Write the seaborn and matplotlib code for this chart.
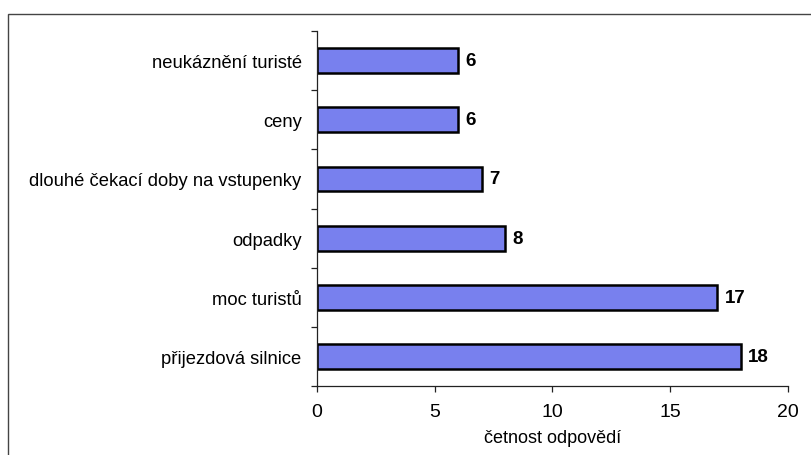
import matplotlib
matplotlib.use("Agg")
import matplotlib.pyplot as plt
import seaborn as sns
import pandas as pd
from matplotlib.patches import Rectangle
from matplotlib.ticker import FixedLocator

# Survey answers: what bothers visitors most
categories = [
    "neukáznění turisté",
    "ceny",
    "dlouhé čekací doby na vstupenky",
    "odpadky",
    "moc turistů",
    "přijezdová silnice",
]
counts = [6, 6, 7, 8, 17, 18]
xticks = [0, 5, 10, 15, 20]

df = pd.DataFrame({"kategorie": categories, "pocet": counts})

sns.set_theme(style="white")
plt.rcParams["font.family"] = ["Liberation Sans", "DejaVu Sans"]
plt.rcParams["text.color"] = "black"
plt.rcParams["xtick.color"] = "black"
plt.rcParams["ytick.color"] = "black"
plt.rcParams["axes.labelcolor"] = "black"

fig = plt.figure(figsize=(8.11, 4.56), dpi=100)
ax = fig.add_axes([0.3909, 0.1513, 0.5807, 0.7785])

sns.barplot(data=df, x="pocet", y="kategorie", orient="h", ax=ax,
            color="#7880EE", saturation=1, width=0.42,
            edgecolor="black", linewidth=1.8)

ax.set_xlim(0, 20)
ax.set_ylim(len(categories) - 0.5, -0.5)
ax.set_xticks(xticks)
ax.set_xticklabels([str(t) for t in xticks], fontsize=14)
ax.tick_params(axis="x", direction="out", length=4, width=0.9,
               color="#222222", pad=8, bottom=True)

# category names centred in each band, tick marks on band boundaries
ax.set_yticks(range(len(categories)))
ax.set_yticklabels(categories, fontsize=13.2)
ax.tick_params(axis="y", which="major", length=0, pad=11)
ax.yaxis.set_minor_locator(FixedLocator([i - 0.5 for i in range(len(categories) + 1)]))
ax.tick_params(axis="y", which="minor", direction="out", length=4,
               width=0.9, color="#222222", left=True)

ax.set_xlabel("četnost odpovědí", fontsize=13, labelpad=7)
ax.set_ylabel("")

for s in ["top", "right"]:
    ax.spines[s].set_visible(False)
for s in ["left", "bottom"]:
    ax.spines[s].set_color("#222222")
    ax.spines[s].set_linewidth(0.9)

for bar, v in zip(ax.patches, counts):
    ax.text(bar.get_width() + 0.3, bar.get_y() + bar.get_height() / 2,
            str(v), va="center", ha="left", fontsize=13.5, fontweight="bold")

# outer chart frame
fig.patches.append(Rectangle((8 / 811, -0.05), 1.0, 1 - 15 / 456 + 0.05,
                             transform=fig.transFigure, fill=False,
                             edgecolor="#444444", linewidth=1.0))

fig.savefig("out.png", dpi=100)
